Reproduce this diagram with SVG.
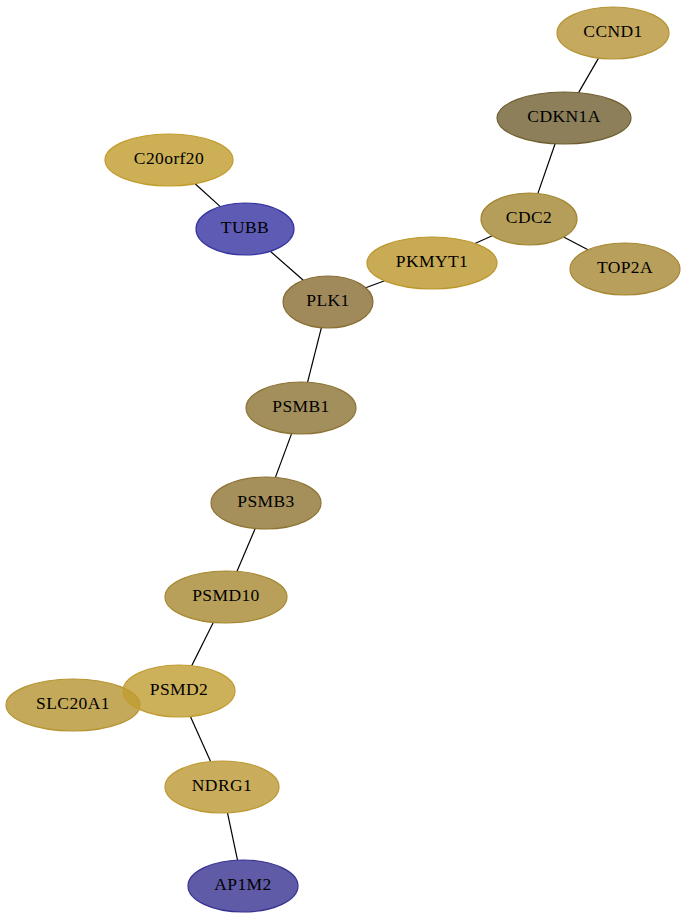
<svg xmlns="http://www.w3.org/2000/svg" width="687" height="920" viewBox="0 0 687 920">
<style>
.n ellipse{fill-opacity:0.8;stroke-width:1.2}
.n text{font-family:"Liberation Serif","Times New Roman",serif;font-size:17.5px;letter-spacing:0.4px;fill:#000;text-anchor:middle}
#edges line{stroke:#000;stroke-width:1.2}
</style>
<rect width="687" height="920" fill="#fff"/>
<g id="edges">
<line x1="598.5" y1="58.1" x2="578.6" y2="92.6"/>
<line x1="555.1" y1="143.8" x2="537.9" y2="193.4"/>
<line x1="563.6" y1="237" x2="588" y2="249.7"/>
<line x1="492.2" y1="235.7" x2="475" y2="243.5"/>
<line x1="384.6" y1="280.8" x2="365.7" y2="287.8"/>
<line x1="195.1" y1="183.7" x2="220.3" y2="206.6"/>
<line x1="270.3" y1="251.3" x2="303.3" y2="280.3"/>
<line x1="321.4" y1="327.7" x2="307.6" y2="382.2"/>
<line x1="291.6" y1="433.6" x2="275.4" y2="477.4"/>
<line x1="255.2" y1="528.5" x2="236.9" y2="571.4"/>
<line x1="213.3" y1="622.4" x2="191.7" y2="665.7"/>
<line x1="190.4" y1="716.5" x2="210.6" y2="761.5"/>
<line x1="227.5" y1="812.9" x2="237.5" y2="860.1"/>
</g>
<g id="CCND1" class="n"><ellipse cx="613" cy="33" rx="56" ry="26" fill="#b59436" stroke="#b59436"/><text x="613" y="37">CCND1</text></g>
<g id="CDKN1A" class="n"><ellipse cx="564" cy="118" rx="67" ry="26" fill="#6f5f31" stroke="#6f5f31"/><text x="564" y="122">CDKN1A</text></g>
<g id="CDC2" class="n"><ellipse cx="529" cy="219" rx="48" ry="26" fill="#a38631" stroke="#a38631"/><text x="529" y="223">CDC2</text></g>
<g id="TOP2A" class="n"><ellipse cx="625" cy="269" rx="55" ry="26" fill="#a68733" stroke="#a68733"/><text x="625" y="273">TOP2A</text></g>
<g id="PKMYT1" class="n"><ellipse cx="432" cy="263" rx="65" ry="26" fill="#bc962b" stroke="#bc962b"/><text x="432" y="267">PKMYT1</text></g>
<g id="C20orf20" class="n"><ellipse cx="169" cy="160" rx="64" ry="26" fill="#c19c2b" stroke="#c19c2b"/><text x="169" y="164">C20orf20</text></g>
<g id="TUBB" class="n"><ellipse cx="245" cy="229" rx="49" ry="26" fill="#3632a1" stroke="#3632a1"/><text x="245" y="233">TUBB</text></g>
<g id="PLK1" class="n"><ellipse cx="328" cy="302" rx="45" ry="26" fill="#886d33" stroke="#886d33"/><text x="328" y="306">PLK1</text></g>
<g id="PSMB1" class="n"><ellipse cx="301" cy="408" rx="55" ry="26" fill="#8c7333" stroke="#8c7333"/><text x="301" y="412">PSMB1</text></g>
<g id="PSMB3" class="n"><ellipse cx="266" cy="503" rx="55" ry="26" fill="#8f7332" stroke="#8f7332"/><text x="266" y="507">PSMB3</text></g>
<g id="PSMD10" class="n"><ellipse cx="226" cy="597" rx="61" ry="26" fill="#a68831" stroke="#a68831"/><text x="226" y="601">PSMD10</text></g>
<g id="SLC20A1" class="n"><ellipse cx="73" cy="705" rx="67" ry="26" fill="#b59431" stroke="#b59431"/><text x="73" y="709">SLC20A1</text></g>
<g id="PSMD2" class="n"><ellipse cx="179" cy="691" rx="56" ry="26" fill="#c19c31" stroke="#c19c31"/><text x="179" y="695">PSMD2</text></g>
<g id="NDRG1" class="n"><ellipse cx="222" cy="787" rx="57" ry="26" fill="#bc9933" stroke="#bc9933"/><text x="222" y="791">NDRG1</text></g>
<g id="AP1M2" class="n"><ellipse cx="243" cy="886" rx="55" ry="26" fill="#373291" stroke="#373291"/><text x="243" y="890">AP1M2</text></g>
</svg>
